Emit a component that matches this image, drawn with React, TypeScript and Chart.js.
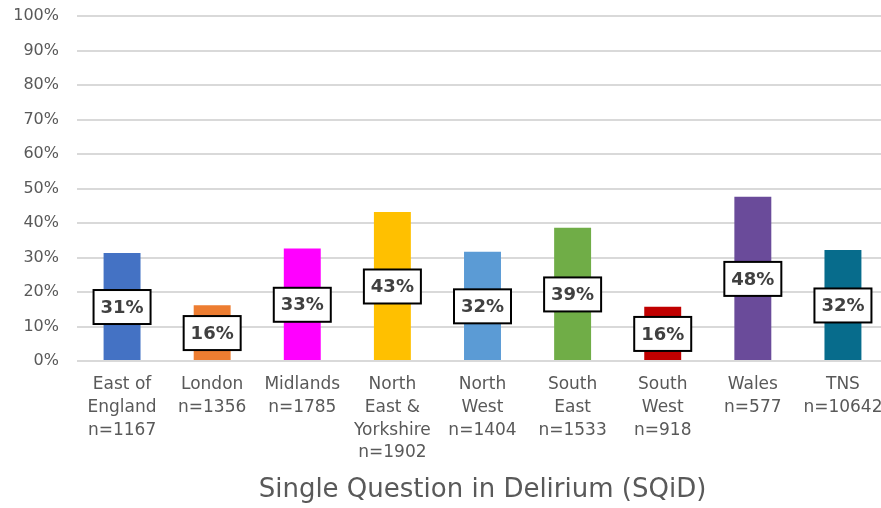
import React, { useEffect, useRef } from "react";
import { Chart, registerables } from "chart.js";

Chart.register(...registerables);

const categories: string[][] = [
  ["East of", "England", "n=1167"],
  ["London", "n=1356"],
  ["Midlands", "n=1785"],
  ["North", "East &", "Yorkshire", "n=1902"],
  ["North", "West", "n=1404"],
  ["South", "East", "n=1533"],
  ["South", "West", "n=918"],
  ["Wales", "n=577"],
  ["TNS", "n=10642"],
];
const values: number[] = [31.3, 16.2, 32.6, 43.2, 31.7, 38.6, 15.7, 47.6, 32.2];
const barColors: string[] = [
  "#4472C4", "#ED7D31", "#FF00FF", "#FFC000", "#5B9BD5",
  "#70AD47", "#C00000", "#6A4B9A", "#076C8C",
];
const axisTitle = "Single Question in Delirium (SQiD)";
const FONT = "'DejaVu Sans', sans-serif";

const boxLabels = {
  id: "boxLabels",
  afterDatasetsDraw(chart: any) {
    const ctx = chart.ctx;
    const meta = chart.getDatasetMeta(0);
    const yScale = chart.scales.y;
    ctx.save();
    ctx.font = `bold 18px ${FONT}`;
    ctx.textAlign = "center";
    ctx.textBaseline = "middle";
    meta.data.forEach((el: any, i: number) => {
      const v = values[i];
      const txt = Math.round(v) + "%";
      const cx = el.x;
      const cy = yScale.getPixelForValue(v / 2);
      const w = 57;
      const h = 34;
      ctx.fillStyle = "#ffffff";
      ctx.fillRect(cx - w / 2, cy - h / 2, w, h);
      ctx.lineWidth = 2;
      ctx.strokeStyle = "#000000";
      ctx.strokeRect(cx - w / 2, cy - h / 2, w, h);
      ctx.fillStyle = "#404040";
      ctx.fillText(txt, cx, cy + 1);
    });
    ctx.restore();
  },
};

export default function App() {
  const ref = useRef<HTMLCanvasElement | null>(null);
  useEffect(() => {
    if (!ref.current) return;
    const chart = new Chart(ref.current, {
      type: "bar",
      data: {
        labels: categories,
        datasets: [
          {
            data: values,
            backgroundColor: barColors,
            barPercentage: 0.41,
            categoryPercentage: 1,
          },
        ],
      },
      options: {
        responsive: false,
        animation: false,
        layout: { padding: { left: 13, top: 0, right: 0, bottom: 2 } },
        plugins: { legend: { display: false }, tooltip: { enabled: false } },
        scales: {
          x: {
            grid: { display: false },
            border: { display: false },
            ticks: {
              color: "#595959",
              font: { family: FONT, size: 17, lineHeight: 1.335 },
              padding: 4.5,
              maxRotation: 0,
              autoSkip: false,
            },
            title: {
              display: true,
              text: axisTitle,
              color: "#595959",
              font: { family: FONT, size: 26 },
              padding: { top: 6, bottom: 0 },
            },
          },
          y: {
            min: 0,
            max: 100,
            border: { display: false },
            grid: { color: "#d9d9d9", lineWidth: 2, drawTicks: false },
            ticks: {
              stepSize: 10,
              color: "#595959",
              font: { family: FONT, size: 16 },
              padding: 18,
              callback: (v: any) => v + "%",
            },
            afterFit: (s: any) => {
              s.width = 64;
              s.paddingTop = 16;
              s.paddingBottom = 0;
            },
          },
        },
      },
      plugins: [boxLabels],
    });
    return () => chart.destroy();
  }, []);
  return (
    <div style={{ position: "fixed", left: 0, top: 0, width: 881, height: 508, overflow: "hidden", background: "#fff" }}>
      <canvas ref={ref} width={888} height={508} style={{ display: "block" }} />
    </div>
  );
}
